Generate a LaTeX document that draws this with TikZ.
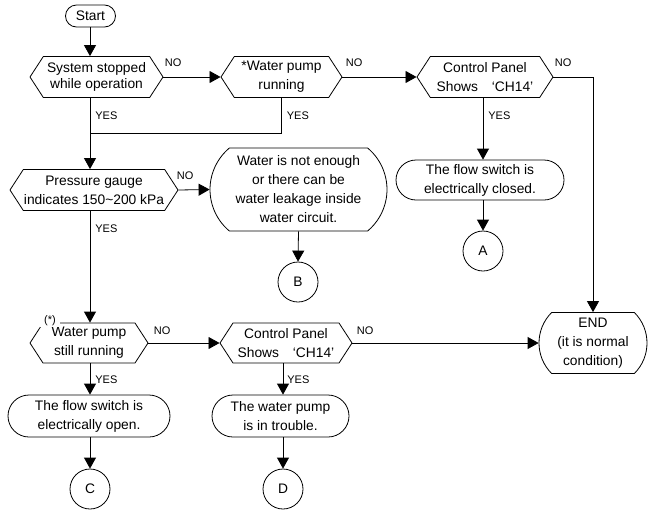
\documentclass[tikz,border=0pt]{standalone}
\usepackage{fontspec}
\setmainfont{Liberation Sans}
\usetikzlibrary{shapes, shapes.symbols, shapes.misc, arrows.meta, positioning, calc}

\begin{document}
\begin{tikzpicture}[
    x=1pt, y=-1pt,
    font=\fontsize{13.8}{19}\selectfont,
    line width=0.8pt,
    decision/.style={signal, signal to=east and west, signal pointer angle=114, draw, align=center, minimum height=41pt, inner sep=0pt},
    terminal/.style={rounded rectangle, draw, align=center, inner sep=0pt},
    link/.style={circle, draw, minimum size=40pt, inner sep=0pt},
    arrow/.style={-{Triangle[length=11pt, width=12pt]}},
    answer/.style={font=\fontsize{11}{13}\selectfont, inner sep=1pt}
]
\useasboundingbox (0,0) rectangle (648,509);

% top row
\node[terminal, minimum width=50pt, minimum height=22pt] (start) at (90.5,16) {Start};
\node[decision, minimum width=133pt, font=\fontsize{13.8}{16}\selectfont] (stopped) at (96.5,77) {System stopped\\while operation};
\node[decision, minimum width=121pt] (pump) at (281.5,77) {*Water pump\\running};
\node[decision, minimum width=136pt] (panel) at (485,77) {Control Panel\\Shows\quad‘CH14’};
\node[terminal, minimum width=168pt, minimum height=40pt] (closed) at (480,180) {The flow switch is\\electrically closed.};
\node[link] (A) at (483,251) {A};

% middle row
\node[decision, minimum width=168pt] (gauge) at (94,190) {Pressure gauge\\indicates 150\textasciitilde200 kPa};
\node[terminal, rounded rectangle arc length=100, minimum width=177pt, minimum height=83pt] (leak) at (298.5,189.5) {Water is not enough\\or there can be\\water leakage inside\\water circuit.};
\node[link] (B) at (298,282) {B};

% bottom row
\node[decision, minimum width=118pt, minimum height=40pt] (still) at (89,343) {Water pump\\still running};
\node[fill=white, inner xsep=4pt, inner ysep=1pt, font=\fontsize{11}{13}\selectfont] (star) at (50,321) {(*)};
\node[decision, minimum width=132pt, minimum height=40pt] (panel2) at (286,343) {Control Panel\\Shows\quad‘CH14’};
\node[terminal, rounded rectangle arc length=90, minimum width=108pt, minimum height=61pt] (end) at (593,343) {END\\(it is normal\\condition)};
\node[terminal, minimum width=162pt, minimum height=42pt] (open) at (89,416) {The flow switch is\\electrically open.};
\node[terminal, minimum width=137pt, minimum height=42pt] (trouble) at (280.5,416) {The water pump\\is in trouble.};
\node[link] (C) at (90,489) {C};
\node[link] (D) at (283,489) {D};

\coordinate (join) at (90,133);

% connectors
\draw[arrow] (start.south -| join) -- (join |- stopped.north);
\draw (stopped.south -| join) -- node[answer, pos=0, anchor=north west, xshift=4pt, yshift=-13pt] {YES} (join);
\draw (pump.south) -- node[answer, pos=0, anchor=north west, xshift=4pt, yshift=-13pt] {YES} (pump.south |- join) -- (join);
\draw[arrow] (join) -- (join |- gauge.north);
\draw[arrow] (stopped.east) -- node[answer, pos=0, anchor=south west, yshift=9pt] {NO} (pump.west);
\draw[arrow] (pump.east) -- node[answer, pos=0, anchor=south west, xshift=2pt, yshift=9pt] {NO} (panel.west);
\draw[arrow] (panel.east) -- node[answer, pos=0, anchor=south west, yshift=9pt] {NO} (panel.east -| end.north) -- (end.north);
\draw[arrow] (panel.south -| A) -- node[answer, pos=0, anchor=north west, xshift=4pt, yshift=-13pt] {YES} (A |- closed.north);
\draw[arrow] (A |- closed.south) -- (A.north);

\draw[arrow] (gauge.east) -- node[answer, pos=0, anchor=south west, xshift=-3pt, yshift=9pt] {NO} (leak.west);
\draw[arrow] (leak.south) -- (B.north);
\draw[arrow] (gauge.south -| join) -- node[answer, pos=0, anchor=north west, xshift=4pt, yshift=-13pt] {YES} (join |- still.north);

\draw[arrow] (still.east) -- node[answer, pos=0, anchor=south west, xshift=4pt, yshift=7pt] {NO} (panel2.west);
\draw[arrow] (panel2.east) -- node[answer, pos=0, anchor=south west, xshift=3pt, yshift=7pt] {NO} (end.west);
\draw[arrow] (still.south -| join) -- node[answer, pos=0, anchor=north west, xshift=4pt, yshift=-11pt] {YES} (join |- open.north);
\draw[arrow] (panel2.south -| D) -- node[answer, pos=0, anchor=north west, xshift=3pt, yshift=-11pt] {YES} (D |- trouble.north);
\draw[arrow] (open.south -| C) -- (C.north);
\draw[arrow] (trouble.south -| D) -- (D.north);

\end{tikzpicture}
\end{document}
